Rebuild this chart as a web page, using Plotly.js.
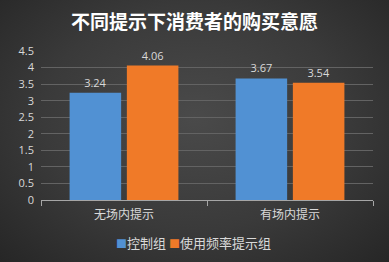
<!DOCTYPE html>
<html><head><meta charset="utf-8">
<script src="https://cdn.plot.ly/plotly-3.0.1.min.js"></script>
<style>
html,body{margin:0;padding:0;}
body{width:389px;height:262px;background:radial-gradient(ellipse at 50% 45%, #4a4a4a 0%, #3a3a3a 55%, #262626 100%);}
#chart{width:389px;height:262px;}
</style></head>
<body><div id="chart"></div>
<script>
const categories = ["无场内提示", "有场内提示"];
const seriesNames = ["控制组", "使用频率提示组"];
const controlValues = [3.24, 3.67];
const promptValues = [4.06, 3.54];
const yTickVals = [0, 0.5, 1, 1.5, 2, 2.5, 3, 3.5, 4, 4.5];
const yTickText = ["0", "0.5", "1", "1.5", "2", "2.5", "3", "3.5", "4", "4.5"];
const seriesColors = ['#5191d3', '#f07a28'];

const fontFam = '"Noto Sans CJK SC", "Open Sans", sans-serif';
const labelColor = '#d9d9d9';

const traces = [
  {type:'bar', name:seriesNames[0], x:categories, y:controlValues,
   marker:{color:seriesColors[0]}, text:controlValues.map(v=>v.toFixed(2)),
   textposition:'outside', cliponaxis:false,
   textfont:{color:labelColor, size:11, family:'"Open Sans", sans-serif'}},
  {type:'bar', name:seriesNames[1], x:categories, y:promptValues,
   marker:{color:seriesColors[1]}, text:promptValues.map(v=>v.toFixed(2)),
   textposition:'outside', cliponaxis:false,
   textfont:{color:labelColor, size:11, family:'"Open Sans", sans-serif'}}
];

const legendText = seriesNames.map((n,i)=>
  '<span style="color:'+seriesColors[i]+';font-size:11px">■</span>' + n).join(' ');

const layout = {
  width:389, height:262,
  paper_bgcolor:'rgba(0,0,0,0)', plot_bgcolor:'rgba(0,0,0,0)',
  margin:{l:41, r:16, t:51, b:62},
  title:{text:'<b>不同提示下消费者的购买意愿</b>', x:0.5, xanchor:'center', y:0.915, yanchor:'middle',
    font:{family:fontFam, size:19, color:'#ffffff'}},
  barmode:'group', bargap:0.31, bargroupgap:0.1,
  showlegend:false,
  annotations:[{text:legendText, xref:'paper', yref:'paper', x:0.46, y:-0.285,
    xanchor:'center', yanchor:'middle', showarrow:false,
    font:{family:fontFam, size:13, color:labelColor}}],
  xaxis:{showline:true, linecolor:'#a6a6a6', linewidth:1, ticks:'outside', tickson:'boundaries',
    tickcolor:'#a6a6a6', ticklen:5, showgrid:false, automargin:false, ticklabelstandoff:4,
    tickfont:{family:fontFam, size:12, color:labelColor}},
  yaxis:{range:[0,4.5], tickvals:yTickVals, ticktext:yTickText, showgrid:true,
    gridcolor:'#636363', gridwidth:1, zeroline:false, showline:false, ticks:'',
    ticklabelstandoff:6, automargin:false,
    tickfont:{family:'"Open Sans", sans-serif', size:11, color:labelColor}}
};

Plotly.newPlot('chart', traces, layout, {displayModeBar:false, staticPlot:true});
</script></body></html>
